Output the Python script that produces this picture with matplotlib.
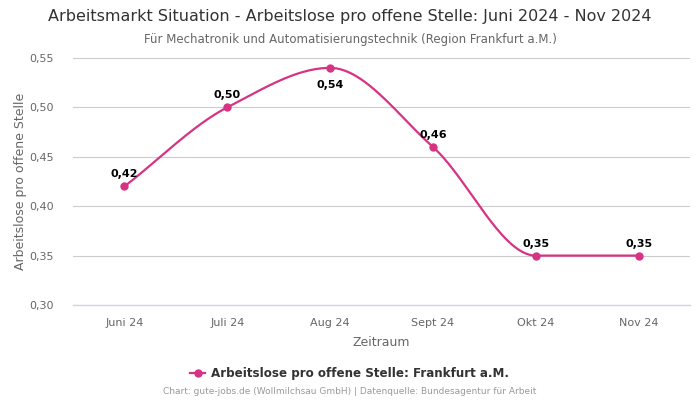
import numpy as np
import matplotlib
matplotlib.use("Agg")
import matplotlib.pyplot as plt

categories = ["Juni 24", "Juli 24", "Aug 24", "Sept 24", "Okt 24", "Nov 24"]
values = [0.42, 0.50, 0.54, 0.46, 0.35, 0.35]
value_labels = ["0,42", "0,50", "0,54", "0,46", "0,35", "0,35"]
yticks = [0.30, 0.35, 0.40, 0.45, 0.50, 0.55]
ytick_labels = ["0,30", "0,35", "0,40", "0,45", "0,50", "0,55"]

color = "#d63384"

def monotone(x, y, n=60):
    x = np.asarray(x, float); y = np.asarray(y, float)
    h = np.diff(x); d = np.diff(y) / h
    m = np.zeros_like(y)
    m[0] = d[0]; m[-1] = d[-1]
    for i in range(1, len(y) - 1):
        if d[i-1] * d[i] <= 0:
            m[i] = 0
        else:
            w1 = 2*h[i] + h[i-1]; w2 = h[i] + 2*h[i-1]
            m[i] = (w1 + w2) / (w1/d[i-1] + w2/d[i])
    xs, ys = [], []
    for i in range(len(x) - 1):
        t = np.linspace(0, 1, n, endpoint=(i == len(x) - 2))
        hh = h[i]
        h00 = 2*t**3 - 3*t**2 + 1; h10 = t**3 - 2*t**2 + t
        h01 = -2*t**3 + 3*t**2; h11 = t**3 - t**2
        xs.append(x[i] + t*hh)
        ys.append(h00*y[i] + h10*hh*m[i] + h01*y[i+1] + h11*hh*m[i+1])
    return np.concatenate(xs), np.concatenate(ys)

fig = plt.figure(figsize=(7, 4), dpi=100)
ax = fig.add_axes([73/700, 95/400, 617/700, 247/400])
xpos = np.arange(len(categories))
sx, sy = monotone(xpos, values)
ax.plot(sx, sy, color=color, lw=1.6, zorder=3)
ax.plot(xpos, values, "o", color=color, ms=5, zorder=4)

for i, (v, lab) in enumerate(zip(values, value_labels)):
    if i == 2:
        ax.annotate(lab, (i, v), xytext=(0, -9), textcoords="offset points",
                    ha="center", va="top", fontsize=8, fontweight="bold", color="black")
    else:
        ax.annotate(lab, (i, v), xytext=(0, 5), textcoords="offset points",
                    ha="center", va="bottom", fontsize=8, fontweight="bold", color="black")

ax.set_xlim(-0.5, len(categories) - 0.5)
ax.set_ylim(0.30, 0.55)
ax.set_yticks(yticks)
ax.set_yticklabels(ytick_labels)
ax.set_xticks(xpos)
ax.set_xticklabels(categories)
ax.tick_params(axis="both", length=0, labelsize=8, colors="#666666")
ax.tick_params(axis="x", pad=9)
ax.tick_params(axis="y", pad=14)
ax.grid(axis="y", color="#cccccc", lw=0.8)
ax.set_axisbelow(True)
for s in ax.spines.values():
    s.set_visible(False)
ax.axhline(0.30, color="#ccd6eb", lw=1, zorder=1, clip_on=False)
ax.set_xlabel("Zeitraum", fontsize=9, color="#666666", labelpad=6)
ax.set_ylabel("Arbeitslose pro offene Stelle", fontsize=9, color="#666666", labelpad=0, va="center")
ax.yaxis.set_label_coords(-52/617, 0.5)

fig.text(0.5, 1 - 17/400, "Arbeitsmarkt Situation - Arbeitslose pro offene Stelle: Juni 2024 - Nov 2024",
         ha="center", va="center", fontsize=11.5, color="#333333")
fig.text(0.5, 1 - 39/400, "Für Mechatronik und Automatisierungstechnik (Region Frankfurt a.M.)",
         ha="center", va="center", fontsize=8.5, color="#666666")

# legend
ly = 1 - 373/400
fig.lines.append(plt.Line2D([190/700, 205/700], [ly, ly], color=color, lw=1.6, transform=fig.transFigure))
fig.lines.append(plt.Line2D([197.5/700], [ly], marker="o", color=color, ms=5, transform=fig.transFigure))
fig.text(211/700, ly, "Arbeitslose pro offene Stelle: Frankfurt a.M.", ha="left", va="center",
         fontsize=8.6, fontweight="bold", color="#333333")
fig.text(0.5, 1 - 392/400, "Chart: gute-jobs.de (Wollmilchsau GmbH) | Datenquelle: Bundesagentur für Arbeit",
         ha="center", va="center", fontsize=6.5, color="#999999")

fig.savefig("out.png", dpi=100)
